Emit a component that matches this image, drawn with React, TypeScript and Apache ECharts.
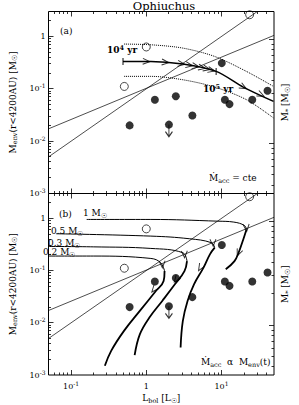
import React, { useEffect, useRef } from 'react';
import * as echarts from 'echarts';

const FONT = 'DejaVu Serif';

// ---------- axes ----------
const titleText = 'Ophiuchus';
const lbolRange = [0.05, 50];
const menvRange = [0.001, 3];
const mstarRange = [0.0332, 1.855];
const xMajorTicks = [0.1, 1, 10];
const xMinorTicks = [0.06, 0.07, 0.08, 0.09, 0.2, 0.3, 0.4, 0.5, 0.6, 0.7, 0.8, 0.9, 2, 3, 4, 5, 6, 7, 8, 9, 20, 30, 40];
const yMajorTicks = [0.01, 0.1, 1];
const yMinorTicks = [0.002, 0.003, 0.004, 0.005, 0.006, 0.007, 0.008, 0.009, 0.02, 0.03, 0.04, 0.05, 0.06, 0.07, 0.08, 0.09, 0.2, 0.3, 0.4, 0.5, 0.6, 0.7, 0.8, 0.9, 2];
const mstarMajorTicks = [0.1, 1];
const mstarMinorTicks = [0.04, 0.05, 0.06, 0.07, 0.08, 0.09, 0.2, 0.3, 0.4, 0.5, 0.6, 0.7, 0.8, 0.9];

// ---------- sources (Lbol [Lsun], Menv [Msun]) ----------
const filledL = [0.6, 1.3, 2.47, 2.0, 4.1, 10.1, 11.1, 12.8, 25.7, 41];
const filledM = [0.02, 0.062, 0.072, 0.0207, 0.031, 0.31, 0.062, 0.051, 0.062, 0.092];
const upperLimL = [2.0];
const upperLimM = [0.0207];
const openL = [0.51, 1.0, 23.7];
const openM = [0.111, 0.63, 2.6];

// ---------- straight relations ----------
const shallowL = [0.05, 50];
const shallowM = [0.0172, 1.05];
const steepL = [0.05, 30];
const steepM = [0.005, 3];

// ---------- panel (a): constant accretion track ----------
const trackAL = [0.49, 1.15, 3.06, 8.5, 19.5, 49.3];
const trackAM = [0.333, 0.333, 0.297, 0.215, 0.108, 0.0574];
const dotUpL = [0.505, 1.15, 3.06, 8.13, 21.5, 49.3];
const dotUpM = [0.716, 0.694, 0.6, 0.415, 0.215, 0.111];
const dotLoL = [0.505, 1.15, 3.06, 8.13, 21.5, 49.3];
const dotLoM = [0.173, 0.173, 0.149, 0.108, 0.062, 0.0277];
const arrowAL = [1.0, 1.79, 2.92, 3.72, 4.53, 5.49, 6.36, 7.36, 19.5, 33.4];
const arrowAM = [0.333, 0.321, 0.3, 0.282, 0.27, 0.253, 0.242, 0.226, 0.108, 0.077];
const arrowAAngle = [-3, -5, -7, -9, -10, -11, -12, -13, -29, -25];
const ageL = [0.49, 8.5];
const ageM = [0.333, 0.215];

// ---------- panel (b): Macc ∝ Menv(t) tracks ----------
const t1aL = [0.161, 1.15, 8.95, 14.6, 20.3, 21.5];
const t1aM = [0.955, 0.955, 0.885, 0.85, 0.73, 0.615];
const t1bL = [21.5, 19.5, 16.9, 14.9, 11.4];
const t1bM = [0.615, 0.395, 0.22, 0.152, 0.106];
const t05aL = [0.0633, 1.15, 3.72, 7.36, 8.13];
const t05aM = [0.508, 0.458, 0.408, 0.342, 0.275];
const t05bL = [8.13, 7.02, 5.77, 4.31, 3.54, 3.06, 2.86];
const t05bM = [0.275, 0.205, 0.114, 0.0546, 0.0262, 0.0108, 0.00336];
const t03aL = [0.05, 0.2, 1.15, 3.06, 3.48];
const t03aM = [0.29, 0.285, 0.266, 0.22, 0.152];
const t03bL = [3.48, 3.22, 2.4, 1.63, 1.1, 0.82, 0.7];
const t03bM = [0.152, 0.098, 0.0546, 0.0262, 0.0126, 0.006, 0.0024];
const t02aL = [0.05, 0.2, 1.15, 1.55, 1.75];
const t02aM = [0.19, 0.19, 0.171, 0.142, 0.098];
const t02bL = [1.75, 1.7, 1.34, 0.82, 0.505, 0.341, 0.281];
const t02bM = [0.098, 0.063, 0.0406, 0.0169, 0.007, 0.0029, 0.0015];
const arrowBL = [21.5, 16.9, 7.73, 5.24, 3.22, 2.52, 1.63, 1.27];
const arrowBM = [0.66, 0.22, 0.342, 0.114, 0.205, 0.068, 0.132, 0.0438];
const arrowBAngle = [-85, -113, -88, -121, -88, -127, -88, -130];

const zip = (a: number[], b: number[]) => a.map((v, i) => [v, b[i]]);

const rich: any = {
  n: { fontFamily: FONT, fontSize: 9, lineHeight: 12, color: '#000' },
  nb: { fontFamily: FONT, fontSize: 9, lineHeight: 12, color: '#000', fontWeight: 'bold' },
  sub: { fontFamily: FONT, fontSize: 6.5, lineHeight: 7, verticalAlign: 'bottom', color: '#000' },
  sup: { fontFamily: FONT, fontSize: 6.5, lineHeight: 7, verticalAlign: 'top', color: '#000' },
  supb: { fontFamily: FONT, fontSize: 6.5, lineHeight: 7, verticalAlign: 'top', color: '#000', fontWeight: 'bold' },
  t: { fontFamily: FONT, fontSize: 8, lineHeight: 12, color: '#000' },
  ts: { fontFamily: FONT, fontSize: 6, lineHeight: 6, verticalAlign: 'top', color: '#000' },
};

const powLabel = (v: number) => {
  const lg = Math.log10(v);
  const e = Math.round(lg);
  if (Math.abs(lg - e) > 1e-6) return '';
  if (e === 0) return '{t|1}';
  return `{t|10}{ts|${e}}`;
};

const snap = (p: number) => Math.round(p - 0.5) + 0.5;
const tickStyle = { stroke: '#000', lineWidth: 0.8 };

function xTickSeries(xAxisIndex: number, yAxisIndex: number, values: number[], len: number) {
  return {
    type: 'custom', xAxisIndex, yAxisIndex, silent: true, clip: false, z: 5,
    data: values.map((v) => [v, 0.1]),
    renderItem: (params: any, api: any) => {
      const cs = params.coordSys;
      const x = snap(api.coord([api.value(0), api.value(1)])[0]);
      return {
        type: 'group', children: [
          { type: 'line', shape: { x1: x, y1: cs.y + cs.height, x2: x, y2: cs.y + cs.height - len }, style: tickStyle },
          { type: 'line', shape: { x1: x, y1: cs.y, x2: x, y2: cs.y + len }, style: tickStyle },
        ],
      };
    },
  };
}

function yTickSeries(xAxisIndex: number, yAxisIndex: number, values: number[], len: number, side: string) {
  return {
    type: 'custom', xAxisIndex, yAxisIndex, silent: true, clip: false, z: 5,
    data: values.map((v) => [1, v]),
    renderItem: (params: any, api: any) => {
      const cs = params.coordSys;
      const y = snap(api.coord([api.value(0), api.value(1)])[1]);
      const x0 = side === 'left' ? cs.x : cs.x + cs.width;
      const dir = side === 'left' ? 1 : -1;
      return { type: 'line', shape: { x1: x0, y1: y, x2: x0 + dir * len, y2: y }, style: tickStyle };
    },
  };
}

function lineS(xi: number, yi: number, L: number[], M: number[], width: number, type = 'solid', smooth: any = false) {
  return {
    type: 'line', xAxisIndex: xi, yAxisIndex: yi, data: zip(L, M), symbol: 'none', smooth,
    lineStyle: { color: '#000', width, type }, silent: true, z: 2,
  };
}

const chevron = 'path://M0,0L10,5L0,10';
function arrowS(xi: number, yi: number, L: number[], M: number[], ang: number[], size: number[]) {
  return {
    type: 'scatter', xAxisIndex: xi, yAxisIndex: yi, silent: true, z: 3,
    data: L.map((l, i) => ({ value: [l, M[i]], symbolRotate: ang[i] })),
    symbol: chevron, symbolSize: size,
    itemStyle: { color: 'rgba(0,0,0,0)', borderColor: '#000', borderWidth: 1 },
  };
}

function pointsS(xi: number, yi: number) {
  return [
    {
      type: 'scatter', xAxisIndex: xi, yAxisIndex: yi, silent: true, z: 4,
      data: zip(filledL, filledM), symbol: 'circle', symbolSize: 8,
      itemStyle: { color: '#000' },
    },
    {
      type: 'scatter', xAxisIndex: xi, yAxisIndex: yi, silent: true, z: 4,
      data: zip(openL, openM), symbol: 'circle', symbolSize: 8,
      itemStyle: { color: 'rgba(0,0,0,0)', borderColor: '#000', borderWidth: 0.9 },
    },
    {
      type: 'scatter', xAxisIndex: xi, yAxisIndex: yi, silent: true, z: 4,
      data: zip(upperLimL, upperLimM), symbol: 'path://M5,0L5,12M0,7L5,12L10,7', symbolSize: [7, 12],
      symbolOffset: [0, 6],
      itemStyle: { color: 'rgba(0,0,0,0)', borderColor: '#000', borderWidth: 1.2 },
    },
  ];
}

function txt(x: number, y: number, text: string, extra: any = {}) {
  return {
    type: 'text', x, y, silent: true, z: 10,
    style: { text, rich, verticalAlign: 'middle', align: 'left', fill: '#000', font: `9px '${FONT}'`, ...extra },
  };
}

export default function App() {
  const ref = useRef<HTMLDivElement>(null);
  useEffect(() => {
    const chart = echarts.init(ref.current!, null, { renderer: 'svg' });
    const xAxisBase = (gridIndex: number, labels: boolean) => ({
      type: 'log', logBase: 10, gridIndex, min: lbolRange[0], max: lbolRange[1],
      axisLine: { show: false }, axisTick: { show: false }, splitLine: { show: false },
      axisLabel: { show: labels, formatter: powLabel, rich, margin: 5 },
      ...(labels
        ? {
            name: '{n|L}{sub|bol}{n| [L}{sub|☉}{n|]}', nameLocation: 'middle', nameGap: 17,
            nameTextStyle: { rich, fontFamily: FONT },
          }
        : {}),
    });
    const yLeft = (gridIndex: number) => ({
      type: 'log', logBase: 10, gridIndex, min: menvRange[0], max: menvRange[1], position: 'left',
      axisLine: { show: false }, axisTick: { show: false }, splitLine: { show: false },
      axisLabel: { formatter: powLabel, rich, margin: 3 },
      name: '{n|M}{sub|env}{n|(r<4200AU) [M}{sub|☉}{n|]}', nameLocation: 'middle', nameGap: 30,
      nameTextStyle: { rich, fontFamily: FONT },
    });
    const yRight = (gridIndex: number) => ({
      type: 'log', logBase: 10, gridIndex, min: mstarRange[0], max: mstarRange[1], position: 'right',
      axisLine: { show: false }, axisTick: { show: false }, splitLine: { show: false },
      axisLabel: { show: false },
      name: '{n|M}{sub|*}{n| [M}{sub|☉}{n|]}', nameLocation: 'middle', nameGap: 5,
      nameTextStyle: { rich, fontFamily: FONT },
    });

    const series: any[] = [
      // panel a
      lineS(0, 0, shallowL, shallowM, 0.7),
      lineS(0, 0, steepL, steepM, 0.7),
      lineS(0, 0, dotUpL, dotUpM, 1, 'dotted', 0.3),
      lineS(0, 0, dotLoL, dotLoM, 1, 'dotted', 0.3),
      lineS(0, 0, trackAL, trackAM, 1.5, 'solid', 0.3),
      arrowS(0, 0, arrowAL, arrowAM, arrowAAngle, [7, 6]),
      {
        type: 'scatter', xAxisIndex: 0, yAxisIndex: 0, silent: true, z: 3,
        data: zip(ageL, ageM), symbol: 'rect', symbolSize: [1.2, 7], itemStyle: { color: '#000' },
      },
      ...pointsS(0, 0),
      // panel b
      lineS(1, 2, shallowL, shallowM, 0.7),
      lineS(1, 2, steepL, steepM, 0.7),
      lineS(1, 2, t1aL, t1aM, 1, 'solid', 0.4),
      lineS(1, 2, t1bL, t1bM, 1.8, 'solid', 0.4),
      lineS(1, 2, t05aL, t05aM, 1, 'solid', 0.4),
      lineS(1, 2, t05bL, t05bM, 1.8, 'solid', 0.4),
      lineS(1, 2, t03aL, t03aM, 1, 'solid', 0.4),
      lineS(1, 2, t03bL, t03bM, 1.8, 'solid', 0.4),
      lineS(1, 2, t02aL, t02aM, 1, 'solid', 0.4),
      lineS(1, 2, t02bL, t02bM, 1.8, 'solid', 0.4),
      arrowS(1, 2, arrowBL, arrowBM, arrowBAngle, [7, 6]),
      ...pointsS(1, 2),
      // ticks
      xTickSeries(0, 0, xMajorTicks, 5),
      xTickSeries(0, 0, xMinorTicks, 2.5),
      xTickSeries(1, 2, xMajorTicks, 5),
      xTickSeries(1, 2, xMinorTicks, 2.5),
      yTickSeries(0, 0, yMajorTicks, 5, 'left'),
      yTickSeries(0, 0, yMinorTicks, 2.5, 'left'),
      yTickSeries(1, 2, yMajorTicks, 5, 'left'),
      yTickSeries(1, 2, yMinorTicks, 2.5, 'left'),
      yTickSeries(0, 1, mstarMajorTicks, 5, 'right'),
      yTickSeries(0, 1, mstarMinorTicks, 2.5, 'right'),
      yTickSeries(1, 3, mstarMajorTicks, 5, 'right'),
      yTickSeries(1, 3, mstarMinorTicks, 2.5, 'right'),
    ];

    chart.setOption({
      animation: false,
      backgroundColor: '#fff',
      textStyle: { fontFamily: FONT },
      title: {
        text: titleText, left: 164, top: 0, padding: 0, textAlign: 'center',
        textStyle: { fontFamily: FONT, fontSize: 11.5, lineHeight: 11, fontWeight: 'normal', color: '#000' },
      },
      grid: [
        { left: 42.5, top: 11.5, width: 236, height: 182, show: true, borderColor: '#000', borderWidth: 1, backgroundColor: 'transparent' },
        { left: 42.5, top: 193.5, width: 236, height: 182, show: true, borderColor: '#000', borderWidth: 1, backgroundColor: 'transparent' },
      ],
      xAxis: [xAxisBase(0, false), xAxisBase(1, true)],
      yAxis: [yLeft(0), yRight(0), yLeft(1), yRight(1)],
      series,
      graphic: [
        txt(60, 31, '{n|(a)}'),
        txt(107, 50, '{nb|10}{supb|4}{nb| yr}'),
        txt(203, 89, '{nb|10}{supb|5}{nb| yr}'),
        txt(209, 178, '{n|Ṁ}{sub|acc}{n| = cte}'),
        txt(59, 214, '{n|(b)}'),
        txt(83, 213, '{n|1 M}{sub|☉}'),
        txt(51, 231, '{n|0.5 M}{sub|☉}'),
        txt(48, 243, '{n|0.3 M}{sub|☉}'),
        txt(43, 252, '{n|0.2 M}{sub|☉}'),
        txt(201, 362, '{n|Ṁ}{sub|acc}{n|  α  M}{sub|env}{n|(t)}'),
      ],
    });
    return () => chart.dispose();
  }, []);
  return <div ref={ref} style={{ position: 'absolute', left: 0, top: 0, width: 299, height: 405 }} />;
}
